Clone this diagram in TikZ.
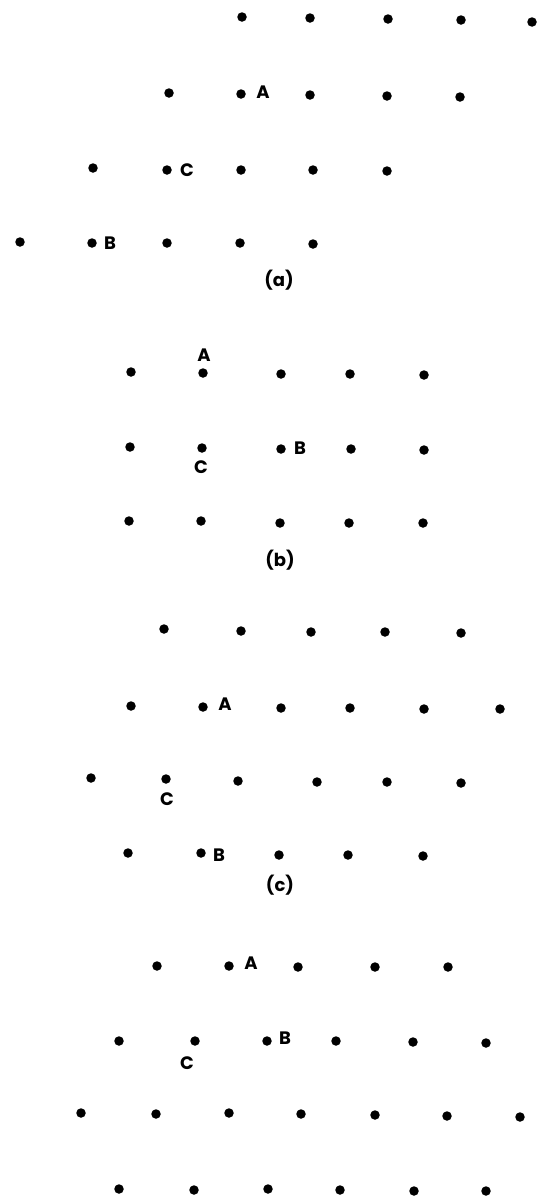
\documentclass[tikz,border=0pt]{standalone}
\usepackage{fontspec}
\newfontfamily\labfont{Poppins}
\begin{document}
\begin{tikzpicture}[x=1pt,y=-1pt,
  dot/.style={circle,fill=black,inner sep=0pt,minimum size=9.5pt},
  lab/.style={inner sep=0pt,font=\labfont\bfseries\fontsize{18}{18}\selectfont}]
\useasboundingbox (0,0) rectangle (536,1197);
% (a)
\foreach \n/\x/\y in {a11/242/17,a12/310/18,a13/388/19,a14/461/20,a15/532/22,
  a21/169/93,a22/241/94,a23/310/95,a24/387/96,a25/460/97,
  a31/93/168,a32/167/170,a33/241/170,a34/313/170,a35/387/171,
  a41/20/242,a42/92/243,a43/167/243,a44/240/243,a45/313/244}
  \node[dot] (\n) at (\x,\y) {};
\node[lab] (aA) at (263,92) {A};
\node[lab] (aC) at (187,170) {C};
\node[lab] (aB) at (110,243) {B};
\node[lab] (acap) at (279,280) {(a)};
% (b)
\foreach \n/\x/\y in {b11/131/372,b12/203/373,b13/281/374,b14/350/374,b15/424/375,
  b21/130/447,b22/202/448,b23/281/449,b24/351/449,b25/424/450,
  b31/129/521,b32/201/521,b33/280/523,b34/349/523,b35/423/523}
  \node[dot] (\n) at (\x,\y) {};
\node[lab] (bA) at (204,355) {A};
\node[lab] (bB) at (300,448) {B};
\node[lab] (bC) at (201,467) {C};
\node[lab] (bcap) at (280,560) {(b)};
% (c)
\foreach \n/\x/\y in {c11/164/629,c12/241/631,c13/311/632,c14/385/632,c15/461/633,
  c21/131/706,c22/203/707,c23/281/708,c24/350/708,c25/424/709,c26/500/709,
  c31/91/778,c32/166/779,c33/238/781,c34/317/782,c35/387/782,c36/461/783,
  c41/128/853,c42/201/853,c43/279/855,c44/348/855,c45/423/856}
  \node[dot] (\n) at (\x,\y) {};
\node[lab] (cA) at (225,704) {A};
\node[lab] (cC) at (167,799) {C};
\node[lab] (cB) at (219,855) {B};
\node[lab] (ccap) at (280,885) {(c)};
% (d)
\foreach \n/\x/\y in {d11/157/966,d12/229/966,d13/298/967,d14/375/967,d15/448/967,
  d21/119/1041,d22/195/1041,d23/267/1041,d24/336/1041,d25/413/1042,d26/486/1043,
  d31/81/1113,d32/156/1114,d33/229/1113,d34/301/1114,d35/375/1115,d36/447/1116,d37/520/1117,
  d41/119/1189,d42/194/1190,d43/268/1189,d44/340/1190,d45/414/1191,d46/486/1191}
  \node[dot] (\n) at (\x,\y) {};
\node[lab] (dA) at (251,963) {A};
\node[lab] (dB) at (285,1038) {B};
\node[lab] (dC) at (187,1063) {C};
\end{tikzpicture}
\end{document}
